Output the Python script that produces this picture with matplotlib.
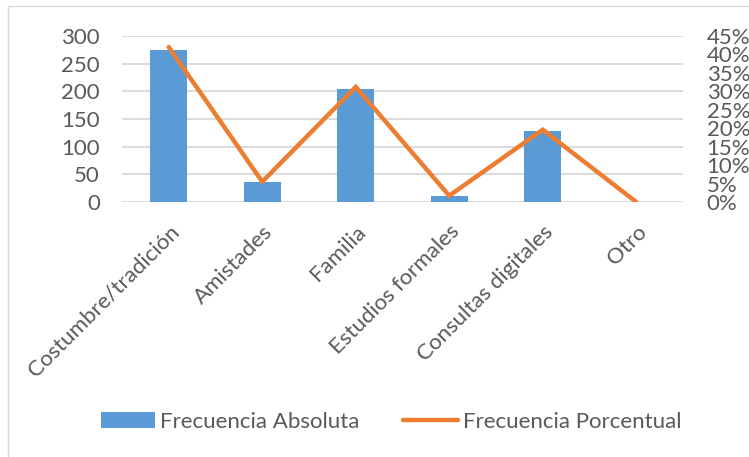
import matplotlib.pyplot as plt
from matplotlib.patches import Rectangle
from matplotlib.ticker import FuncFormatter

categories = ['Costumbre/tradición', 'Amistades', 'Familia',
              'Estudios formales', 'Consultas digitales', 'Otro']
absoluta = [275, 36, 204, 11, 128, 0]
porcentual = [42.0, 5.5, 31.2, 1.7, 19.6, 0.0]

gray = '#595959'
fsize = 16
plt.rcParams['font.family'] = ['Lato', 'DejaVu Sans']

fig = plt.figure(figsize=(7.49, 4.57), dpi=100)
fig.patches.append(Rectangle((8 / 749, -0.1), 1.0, 1 - 6 / 457 + 0.1,
                             transform=fig.transFigure, fill=False,
                             edgecolor='#D9D9D9', linewidth=1.0))

ax = fig.add_axes([122 / 749, 1 - 202 / 457, (683 - 122) / 749, (202 - 36) / 457])
x = range(len(categories))
bars = ax.bar(x, absoluta, width=0.4, color='#5B9BD5', zorder=2,
              label='Frecuencia Absoluta')
ax.set_xlim(-0.5, len(categories) - 0.5)
ax.set_ylim(0, 300)
ax.set_yticks(range(0, 301, 50))
ax.grid(axis='y', color='#D9D9D9', linewidth=1.3, zorder=0)
for s in ax.spines.values():
    s.set_visible(False)
ax.tick_params(axis='y', length=0, colors=gray, labelsize=fsize, pad=16)
ax.set_xticks(list(x))
ax.set_xticklabels(categories, rotation=45, ha='right', rotation_mode='anchor',
                   color=gray, fontsize=fsize)
ax.tick_params(axis='x', length=0, pad=14)

ax2 = ax.twinx()
line, = ax2.plot(x, porcentual, color='#ED7D31', linewidth=3.2,
                 solid_capstyle='round', solid_joinstyle='miter', zorder=3,
                 label='Frecuencia Porcentual')
ax2.set_ylim(0, 45)
ax2.set_yticks(range(0, 46, 5))
ax2.yaxis.set_major_formatter(FuncFormatter(lambda v, p: f'{int(v)}%'))
for s in ax2.spines.values():
    s.set_visible(False)
ax2.tick_params(axis='y', length=0, colors=gray, labelsize=fsize, pad=17)

fig.legend([bars, line], ['Frecuencia Absoluta', 'Frecuencia Porcentual'],
           loc='center', bbox_to_anchor=(391 / 749, 1 - 422 / 457), ncol=2,
           frameon=False, fontsize=fsize, labelcolor=gray, handlelength=2.45,
           handletextpad=0.23, columnspacing=1.95)

fig.savefig('out.png', dpi=100)
